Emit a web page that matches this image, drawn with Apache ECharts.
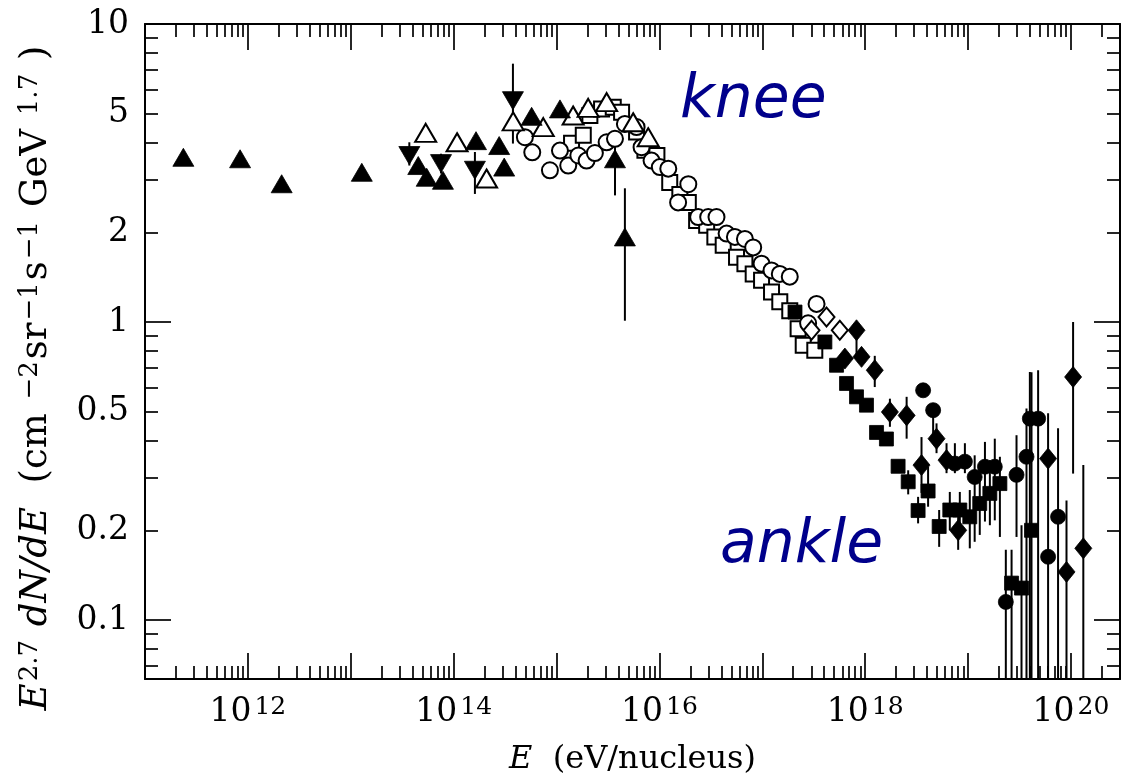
<!DOCTYPE html>
<html>
<head>
<meta charset="utf-8">
<script src="https://cdn.jsdelivr.net/npm/echarts@6/dist/echarts.min.js"></script>
<style>
  html, body { margin: 0; padding: 0; background: #fff; }
  #chart { width: 1122px; height: 775px; }
</style>
</head>
<body>
<div id="chart"></div>
<script>
// All-particle cosmic-ray spectrum: E (eV/nucleus) vs E^2.7 dN/dE.

// ---- axis ranges and tick values ----
const xMin = 1e11, xMax = 3e20;
const yMin = 0.0634, yMax = 10;
const xDecades = [1e11, 1e12, 1e13, 1e14, 1e15, 1e16, 1e17, 1e18, 1e19, 1e20];
const xLabelValues = [1e12, 1e14, 1e16, 1e18, 1e20];
const yDecades = [0.1, 1, 10];
const yLabelValues = [0.1, 0.2, 0.5, 1, 2, 5, 10];
const minorSteps = [2, 3, 4, 5, 6, 7, 8, 9];

// ---- direct measurements (filled triangles) ----
const filledTriUp = [
  [2.36e11, 3.57], [8.4e11, 3.53], [2.13e12, 2.91], [1.28e13, 3.18],
  [4.53e13, 3.35], [5.47e13, 3.06], [7.87e13, 2.99], [1.65e14, 4.06],
  [2.77e14, 3.91], [3.10e14, 3.31], [5.73e14, 4.90], [1.08e15, 5.19],
  [3.70e15, 3.53], [4.62e15, 1.93]
];
const filledTriUpErr = [[3.70e15, 2.66, 4.23], [4.62e15, 1.01, 2.81]];

const filledTriDown = [[3.71e13, 3.62], [7.54e13, 3.40], [1.61e14, 3.23], [3.77e14, 5.53]];
const filledTriDownErr = [
  [3.71e13, 3.35, 4.01], [7.54e13, 3.15, 3.67], [1.61e14, 2.69, 3.72], [3.77e14, 3.97, 7.36]
];

const openTriUp = [
  [5.35e13, 4.31], [1.08e14, 4.01], [2.09e14, 3.03], [3.79e14, 4.71], [7.43e14, 4.51],
  [1.45e15, 4.93], [2.03e15, 5.23], [3.07e15, 5.47], [5.56e15, 4.68], [7.78e15, 4.17]
];

// ---- air-shower arrays ----
const openCircle = [
  [4.93e14, 4.17], [5.81e14, 3.71], [8.63e14, 3.23], [1.08e15, 3.76], [1.30e15, 3.35],
  [1.63e15, 3.62], [1.96e15, 3.48], [2.36e15, 3.69], [3.07e15, 4.01], [3.70e15, 4.12],
  [4.62e15, 4.62], [6.00e15, 4.51], [6.71e15, 3.86], [8.39e15, 3.48], [1.01e16, 3.31],
  [1.22e16, 3.27], [1.91e16, 2.90], [1.52e16, 2.52], [2.38e16, 2.25], [2.98e16, 2.25],
  [3.59e16, 2.25], [4.50e16, 1.98], [5.42e16, 1.93], [6.78e16, 1.90], [8.16e16, 1.78],
  [9.84e16, 1.57], [1.23e17, 1.49], [1.48e17, 1.45], [1.85e17, 1.42], [3.37e17, 1.15],
  [2.79e17, 0.99]
];

const openSquare = [
  [1.40e15, 3.98], [1.82e15, 4.23], [2.11e15, 4.93], [2.74e15, 5.19], [3.56e15, 5.26],
  [4.29e15, 5.06], [6.00e15, 4.34], [7.23e15, 3.77], [9.46e15, 3.62], [1.26e16, 2.94],
  [1.58e16, 2.68], [1.91e16, 2.52], [2.30e16, 2.19], [2.88e16, 2.11], [3.46e16, 1.93],
  [4.17e16, 1.81], [5.62e16, 1.65], [6.78e16, 1.57], [8.16e16, 1.45], [9.84e16, 1.38],
  [1.23e17, 1.26], [1.48e17, 1.17], [1.85e17, 1.09], [2.23e17, 0.95], [2.50e17, 0.836],
  [3.24e17, 0.804]
];

const openDiamond = [[3.01e17, 0.938], [4.21e17, 1.04], [5.67e17, 0.938]];

const filledSquare = [
  [2.08e17, 1.08], [4.06e17, 0.857], [5.27e17, 0.716], [6.59e17, 0.622], [8.24e17, 0.561],
  [1.03e18, 0.526], [1.29e18, 0.426], [1.61e18, 0.405], [2.09e18, 0.328], [2.62e18, 0.291],
  [3.27e18, 0.233], [4.09e18, 0.271], [5.24e18, 0.206], [6.65e18, 0.234], [8.32e18, 0.234],
  [1.04e19, 0.222], [1.30e19, 0.246], [1.63e19, 0.266], [2.04e19, 0.287], [2.65e19, 0.133],
  [3.31e19, 0.128], [4.14e19, 0.200]
];
const filledSquareErr = [
  [2.62e18, 0.264, 0.318], [3.27e18, 0.211, 0.259], [4.09e18, 0.240, 0.327],
  [5.24e18, 0.176, 0.234], [6.65e18, 0.200, 0.269], [8.32e18, 0.200, 0.269],
  [1.04e19, 0.174, 0.273], [1.30e19, 0.193, 0.306], [1.63e19, 0.208, 0.344],
  [2.04e19, 0.190, 0.353], [2.65e19, 0.01, 0.172], [3.31e19, 0.01, 0.208],
  [4.14e19, 0.01, 0.678]
];

const filledDiamond = [
  [6.35e17, 0.754], [8.24e17, 0.938], [9.22e17, 0.764], [1.24e18, 0.689], [1.74e18, 0.499],
  [2.53e18, 0.486], [3.53e18, 0.331], [4.94e18, 0.406], [6.18e18, 0.344], [8.02e18, 0.200],
  [6.00e19, 0.348], [9.06e19, 0.145], [1.05e20, 0.654], [1.32e20, 0.174]
];
const filledDiamondErr = [
  [8.24e17, 0.76, 0.99], [1.24e18, 0.605, 0.77], [1.74e18, 0.445, 0.553],
  [2.53e18, 0.406, 0.561], [3.53e18, 0.267, 0.411], [4.94e18, 0.363, 0.457],
  [6.18e18, 0.311, 0.392], [8.02e18, 0.172, 0.222], [6.00e19, 0.01, 0.494],
  [9.06e19, 0.01, 0.252], [1.05e20, 0.310, 1.0], [1.32e20, 0.01, 0.331]
];

const filledCircle = [
  [3.66e18, 0.590], [4.58e18, 0.506], [7.45e18, 0.335], [9.32e18, 0.340], [1.16e19, 0.302],
  [1.46e19, 0.327], [1.82e19, 0.327], [2.96e19, 0.307], [3.70e19, 0.353], [3.99e19, 0.474],
  [4.80e19, 0.474], [2.33e19, 0.115], [6.00e19, 0.163], [7.50e19, 0.222]
];
const filledCircleErr = [
  [4.58e18, 0.411, 0.526], [7.45e18, 0.311, 0.392], [9.32e18, 0.311, 0.392],
  [1.16e19, 0.183, 0.357], [1.46e19, 0.214, 0.396], [1.82e19, 0.216, 0.406],
  [2.96e19, 0.190, 0.417], [3.70e19, 0.01, 0.513], [3.99e19, 0.01, 0.680],
  [4.80e19, 0.01, 0.689], [2.33e19, 0.01, 0.172], [7.50e19, 0.01, 0.440]
];

// ---- tick positions built from decades x multipliers ----
const xMinor = [];
xDecades.forEach(d => minorSteps.forEach(k => { const v = d * k; if (v < xMax) xMinor.push(v); }));
const yMinor = [];
[0.01, 0.1, 1].forEach(d => minorSteps.forEach(k => { const v = d * k; if (v > yMin && v < yMax) yMinor.push(v); }));

const SERIF = 'DejaVu Serif';
const INK = '#000';

function xAxisDef(position, ticks, len, withLabels) {
  return {
    type: 'log', position, min: xMin, max: xMax,
    axisLine: { show: withLabels, onZero: false, lineStyle: { color: INK, width: 2 } },
    axisTick: { show: true, inside: true, length: len, customValues: ticks, lineStyle: { color: INK, width: 1.7 } },
    axisLabel: withLabels && position === 'bottom' ? {
      show: true, customValues: xLabelValues, margin: 16,
      formatter: v => '{b|10}{e|' + Math.round(Math.log10(v)) + '}',
      rich: {
        b: { fontFamily: SERIF, fontSize: 33, color: INK, lineHeight: 34, verticalAlign: 'bottom' },
        e: { fontFamily: SERIF, fontSize: 25, color: INK, lineHeight: 25, verticalAlign: 'top', padding: [0, 0, 19, 3] }
      }
    } : { show: false },
    splitLine: { show: false }
  };
}
function yAxisDef(position, ticks, len, withLabels) {
  return {
    type: 'log', position, min: yMin, max: yMax,
    axisLine: { show: withLabels, onZero: false, lineStyle: { color: INK, width: 2 } },
    axisTick: { show: true, inside: true, length: len, customValues: ticks, lineStyle: { color: INK, width: 1.7 } },
    axisLabel: withLabels && position === 'left' ? {
      show: true, customValues: yLabelValues, margin: 16,
      fontFamily: SERIF, fontSize: 33, color: INK,
      formatter: v => String(v)
    } : { show: false },
    splitLine: { show: false }
  };
}

function scatter(name, data, symbol, size, filled, extra) {
  return Object.assign({
    name, type: 'scatter', data, symbol, symbolSize: size,
    xAxisIndex: 0, yAxisIndex: 0, clip: true,
    itemStyle: filled
      ? { color: INK, borderColor: INK, borderWidth: 0.8, opacity: 1 }
      : { color: '#fff', borderColor: INK, borderWidth: 2, opacity: 1 },
    emphasis: { disabled: true }
  }, extra || {});
}

function errorBars(name, data) {
  return {
    name, type: 'custom', data, xAxisIndex: 0, yAxisIndex: 0, clip: true, silent: true,
    encode: { x: 0, y: [1, 2] },
    renderItem(params, api) {
      const top = api.coord([api.value(0), api.value(2)]);
      const bot = api.coord([api.value(0), api.value(1)]);
      return {
        type: 'line',
        shape: { x1: top[0], y1: top[1], x2: bot[0], y2: bot[1] },
        style: { stroke: INK, lineWidth: 2 }
      };
    }
  };
}

const chart = echarts.init(document.getElementById('chart'), null, { renderer: 'canvas' });
chart.setOption({
  animation: false,
  backgroundColor: '#fff',
  grid: { left: 145, top: 24, right: 2, bottom: 96, containLabel: false, outerBoundsMode: 'none' },
  xAxis: [
    Object.assign(xAxisDef('bottom', xDecades, 26, true), {
      name: '{i|E}{r|  (eV/nucleus)}',
      nameLocation: 'middle', nameGap: 61,
      nameTextStyle: {
        rich: {
          i: { fontFamily: SERIF, fontStyle: 'italic', fontSize: 32, color: INK },
          r: { fontFamily: SERIF, fontSize: 32, color: INK }
        }
      }
    }),
    xAxisDef('bottom', xMinor, 13, false),
    xAxisDef('top', xDecades, 26, true),
    xAxisDef('top', xMinor, 13, false)
  ],
  yAxis: [
    yAxisDef('left', yDecades, 26, true),
    yAxisDef('left', yMinor, 13, false),
    yAxisDef('right', yDecades, 26, true),
    yAxisDef('right', yMinor, 13, false)
  ],
  graphic: [
    {
      type: 'text', x: 36, y: 378, rotation: Math.PI / 2,
      style: {
        text: '{i|E}{s|2.7}{i| dN/dE}{r|  (cm }{s|−2}{r|sr}{s|−1}{r|s}{s|−1}{r| GeV }{s|1.7}{r| )}',
        align: 'center', verticalAlign: 'middle',
        rich: {
          i: { fontFamily: SERIF, fontStyle: 'italic', fontSize: 37, fill: INK, lineHeight: 38, verticalAlign: 'bottom' },
          r: { fontFamily: SERIF, fontSize: 37, fill: INK, lineHeight: 38, verticalAlign: 'bottom' },
          s: { fontFamily: SERIF, fontSize: 26, fill: INK, lineHeight: 26, verticalAlign: 'top', padding: [0, 2, 19, 2] }
        }
      }
    },
    {
      type: 'text', x: 680, y: 101,
      style: { text: 'knee', fontFamily: 'DejaVu Sans', fontStyle: 'italic', fontSize: 60, fill: '#00008b', verticalAlign: 'middle' }
    },
    {
      type: 'text', x: 720, y: 546,
      style: { text: 'ankle', fontFamily: 'DejaVu Sans', fontStyle: 'italic', fontSize: 60, fill: '#00008b', verticalAlign: 'middle' }
    }
  ],
  series: [
    errorBars('triUpErr', filledTriUpErr),
    errorBars('triDownErr', filledTriDownErr),
    errorBars('squareErr', filledSquareErr),
    errorBars('diamondErr', filledDiamondErr),
    errorBars('circleErr', filledCircleErr),
    scatter('openSquare', openSquare, 'rect', 15, false),
    scatter('openCircle', openCircle, 'circle', 16, false),
    scatter('openTriUp', openTriUp, 'triangle', [21, 18], false),
    scatter('openDiamond', openDiamond, 'diamond', [16, 19], false),
    scatter('filledTriUp', filledTriUp, 'triangle', [21, 18], true),
    scatter('filledTriDown', filledTriDown, 'triangle', [21, 18], true, { symbolRotate: 180 }),
    scatter('filledSquare', filledSquare, 'rect', 14, true),
    scatter('filledDiamond', filledDiamond, 'diamond', [17, 21], true),
    scatter('filledCircle', filledCircle, 'circle', 15, true)
  ]
});
</script>
</body>
</html>
